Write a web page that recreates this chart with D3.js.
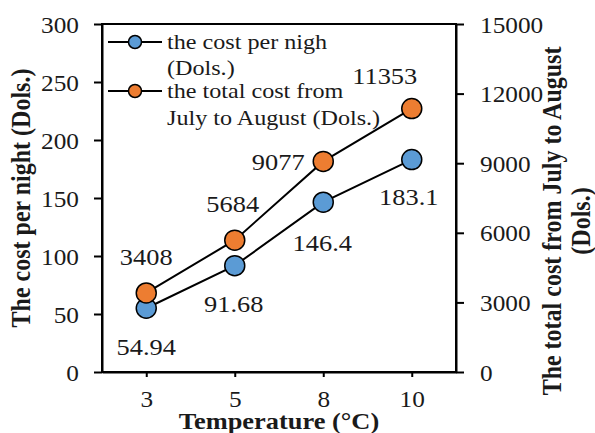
<!DOCTYPE html>
<html><head><meta charset="utf-8">
<script src="https://cdn.jsdelivr.net/npm/d3@7"></script>
<style>
html,body{margin:0;padding:0;background:#fff;}
svg text{font-family:"Liberation Serif","Times New Roman",serif;fill:#1a1a1a;}
</style></head>
<body>
<svg id="chart" width="595" height="433"></svg>
<script>
const categories = ["3", "5", "8", "10"];
const costPerNight = [54.94, 91.68, 146.4, 183.1];
const totalCost = [3408, 5684, 9077, 11353];
const leftTicks = [0, 50, 100, 150, 200, 250, 300];
const rightTicks = [0, 3000, 6000, 9000, 12000, 15000];
const seriesNames = [["the cost per nigh", "(Dols.)"], ["the total cost from", "July to August (Dols.)"]];
const xTitle = "Temperature (°C)";
const yTitleLeft = "The cost per night (Dols.)";
const yTitleRight = ["The total cost from July to August", "(Dols.)"];

const svg = d3.select("#chart");
const L = 102, R = 456, T = 24, B = 372;
const blue = "#5B9BD5", orange = "#ED7D31";
const SX = 1.1;           // horizontal stretch of the glyphs in the reference
const tickFs = 23, labelFs = 24, titleFs = 24, legFs = 21, legSX = 1.15;

const x = d3.scalePoint().domain(categories).range([L, R]).padding(0.5);
const yL = d3.scaleLinear().domain([0, 300]).range([B, T]);
const yR = d3.scaleLinear().domain([0, 15000]).range([B, T]);

// frame
svg.append("rect").attr("x", L).attr("y", T).attr("width", R - L).attr("height", B - T)
  .attr("fill", "none").attr("stroke", "#000").attr("stroke-width", 2);

function styleAxis(g){
  g.select(".domain").attr("stroke", "#000").attr("stroke-width", 2);
  g.selectAll("line").attr("stroke", "#000").attr("stroke-width", 2);
  g.selectAll("text").attr("font-size", tickFs).attr("fill", "#1a1a1a")
    .style("font-family", '"Liberation Serif","Times New Roman",serif');
}

const gl = svg.append("g").attr("transform", `translate(${L},0)`)
  .call(d3.axisLeft(yL).tickValues(leftTicks).tickSize(8).tickSizeOuter(0));
styleAxis(gl);
gl.selectAll(".tick text").attr("x", -23 / SX).attr("dy", "0.35em").attr("transform", `scale(${SX},1)`);

const gr = svg.append("g").attr("transform", `translate(${R},0)`)
  .call(d3.axisRight(yR).tickValues(rightTicks).tickFormat(d3.format("d")).tickSize(8).tickSizeOuter(0));
styleAxis(gr);
gr.selectAll(".tick text").attr("x", 24 / SX).attr("dy", "0.35em").attr("transform", `scale(${SX},1)`);

const gb = svg.append("g").attr("transform", `translate(0,${B})`)
  .call(d3.axisBottom(x).tickSize(5).tickSizeOuter(0));
styleAxis(gb);
gb.selectAll(".tick text").attr("y", 27).attr("dy", "0.35em").attr("transform", `scale(${SX},1)`);

// titles
svg.append("text").attr("transform", `translate(${(L + R) / 2},429) scale(${SX},1)`)
  .attr("text-anchor", "middle").attr("font-size", titleFs).attr("font-weight", "bold").text(xTitle);
svg.append("text").attr("transform", `translate(30,198) scale(${SX},1) rotate(-90)`)
  .attr("text-anchor", "middle").attr("font-size", titleFs).attr("font-weight", "bold").text(yTitleLeft);
yTitleRight.forEach((t, i) => {
  svg.append("text").attr("transform", `translate(${561 + i * 29},221) scale(${SX},1) rotate(-90)`)
    .attr("text-anchor", "middle").attr("font-size", titleFs).attr("font-weight", "bold").text(t);
});

// lines
const lineL = d3.line().x((d, i) => x(categories[i])).y(d => yL(d));
const lineR = d3.line().x((d, i) => x(categories[i])).y(d => yR(d));
svg.append("path").attr("d", lineL(costPerNight)).attr("fill", "none").attr("stroke", "#000").attr("stroke-width", 2);
svg.append("path").attr("d", lineR(totalCost)).attr("fill", "none").attr("stroke", "#000").attr("stroke-width", 2);

svg.selectAll(".pb").data(costPerNight).enter().append("circle")
  .attr("cx", (d, i) => x(categories[i])).attr("cy", d => yL(d)).attr("r", 10)
  .attr("fill", blue).attr("stroke", "#000").attr("stroke-width", 1.5);
svg.selectAll(".po").data(totalCost).enter().append("circle")
  .attr("cx", (d, i) => x(categories[i])).attr("cy", d => yR(d)).attr("r", 10)
  .attr("fill", orange).attr("stroke", "#000").attr("stroke-width", 1.5);

// data labels
const blueOff = [[0, 38], [-1, 38], [-1, 40], [-3, 37]];
const orangeOff = [[0, -36], [-2, -37], [-45, 0], [-27, -33]];
function label(data, yS, off){
  svg.append("g").selectAll("text").data(data).enter().append("text")
    .attr("transform", (d, i) => `translate(${x(categories[i]) + off[i][0]},${yS(d) + off[i][1]}) scale(${SX},1)`)
    .attr("dy", "0.35em").attr("text-anchor", "middle").attr("font-size", labelFs).text(d => d);
}
label(costPerNight, yL, blueOff);
label(totalCost, yR, orangeOff);

// legend
const legColors = [blue, orange];
const legY = [42, 91];
seriesNames.forEach((lines, i) => {
  const g = svg.append("g");
  g.append("line").attr("x1", 108).attr("x2", 162).attr("y1", legY[i]).attr("y2", legY[i])
    .attr("stroke", "#000").attr("stroke-width", 2);
  g.append("circle").attr("cx", 135).attr("cy", legY[i]).attr("r", 6.5)
    .attr("fill", legColors[i]).attr("stroke", "#000").attr("stroke-width", 1.5);
  lines.forEach((t, j) => {
    g.append("text").attr("transform", `translate(167,${legY[i] + j * (i === 0 ? 26 : 27)}) scale(${legSX},1)`).attr("dy", "0.35em")
      .attr("font-size", legFs).text(t);
  });
});
</script>
</body></html>
